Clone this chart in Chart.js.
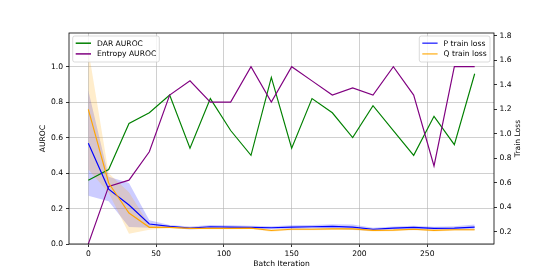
<!DOCTYPE html>
<html>
<head>
<meta charset="utf-8">
<script src="https://cdn.jsdelivr.net/npm/chart.js@4.4.1/dist/chart.umd.min.js"></script>
<style>
  html, body { margin: 0; padding: 0; background: #fff; }
  #wrap { width: 549px; height: 275px; }
</style>
</head>
<body>
<div id="wrap"><canvas id="chart" width="549" height="275"></canvas></div>
<script>
// data
const iterations   = [0, 15, 30, 45, 60, 75, 90, 105, 120, 135, 150, 165, 180, 195, 210, 225, 240, 255, 270, 285];
const darAuroc     = [0.36, 0.42, 0.68, 0.74, 0.84, 0.54, 0.82, 0.64, 0.50, 0.94, 0.54, 0.82, 0.74, 0.60, 0.78, 0.64, 0.50, 0.72, 0.56, 0.96];
const entropyAuroc = [0.00, 0.325, 0.36, 0.52, 0.84, 0.92, 0.80, 0.80, 1.00, 0.80, 1.00, 0.92, 0.84, 0.88, 0.84, 1.00, 0.84, 0.44, 1.00, 1.00];
const pLoss = [0.925, 0.55, 0.42, 0.265, 0.246, 0.232, 0.243, 0.240, 0.238, 0.235, 0.240, 0.243, 0.246, 0.240, 0.222, 0.232, 0.238, 0.230, 0.232, 0.240];
const pStd  = [0.43, 0.10, 0.18, 0.03, 0.012, 0.012, 0.015, 0.015, 0.012, 0.012, 0.015, 0.015, 0.018, 0.022, 0.012, 0.012, 0.012, 0.012, 0.015, 0.022];
const qLoss = [1.20, 0.60, 0.355, 0.238, 0.238, 0.230, 0.230, 0.230, 0.232, 0.212, 0.222, 0.222, 0.225, 0.225, 0.213, 0.215, 0.222, 0.213, 0.218, 0.218];
const qStd  = [0.49, 0.08, 0.17, 0.02, 0.008, 0.008, 0.008, 0.008, 0.008, 0.010, 0.008, 0.008, 0.008, 0.008, 0.008, 0.008, 0.008, 0.008, 0.008, 0.008];

const xTicks     = [0, 50, 100, 150, 200, 250];
const aurocTicks = [0.0, 0.2, 0.4, 0.6, 0.8, 1.0];
const lossTicks  = [0.2, 0.4, 0.6, 0.8, 1.0, 1.2, 1.4, 1.6, 1.8];

const FONT = 'DejaVu Sans';
const FS = 7.6;
Chart.defaults.font.family = FONT;
Chart.defaults.font.size = FS;
Chart.defaults.color = '#000';

const pts = (ys) => ys.map((y, i) => ({ x: iterations[i], y: y }));
const band = (m, s, sign) => m.map((v, i) => ({ x: iterations[i], y: v + sign * s[i] }));

function line(label, data, color, axis, order) {
  return { label, data, borderColor: color, borderWidth: 1.15, pointRadius: 0,
           tension: 0, fill: false, yAxisID: axis, order };
}
function edge(data, color, fill, order) {
  return { data, borderWidth: 0, borderColor: 'rgba(0,0,0,0)', backgroundColor: color,
           pointRadius: 0, tension: 0, fill, yAxisID: 'y2', order };
}

const legends = [
  { dx: 3.7, w: 86.6, items: [['DAR AUROC', '#008000'], ['Entropy AUROC', '#800080']] },
  { dx: 350.3, w: 70.7, items: [['P train loss', 'rgba(0,0,255,0.75)'], ['Q train loss', 'rgba(255,165,0,0.75)']] }
];

const extras = {
  id: 'extras',
  afterDatasetsDraw(chart) {
    const { ctx, chartArea: a } = chart;
    ctx.save();
    // frame
    ctx.strokeStyle = '#000';
    ctx.lineWidth = 0.8;
    ctx.strokeRect(a.left, a.top, a.right - a.left, a.bottom - a.top);

    // legends
    legends.forEach(lg => {
      const x = a.left + lg.dx, y = a.top + 3, h = 26, r = 2;
      ctx.beginPath();
      ctx.roundRect(x, y, lg.w, h, r);
      ctx.fillStyle = 'rgba(255,255,255,0.8)';
      ctx.fill();
      ctx.strokeStyle = '#cccccc';
      ctx.lineWidth = 0.7;
      ctx.stroke();
      ctx.font = FS + 'px "' + FONT + '"';
      ctx.textBaseline = 'middle';
      ctx.textAlign = 'left';
      lg.items.forEach((it, i) => {
        const yy = y + 7.2 + i * 10.7;
        ctx.beginPath();
        ctx.moveTo(x + 3, yy);
        ctx.lineTo(x + 18.3, yy);
        ctx.strokeStyle = it[1];
        ctx.lineWidth = 1.5;
        ctx.stroke();
        ctx.fillStyle = '#000';
        ctx.fillText(it[0], x + 24.3, yy + 0.5);
      });
    });

    // right axis title (reads bottom to top)
    ctx.translate(518.3, (a.top + a.bottom) / 2);
    ctx.rotate(-Math.PI / 2);
    ctx.textAlign = 'center';
    ctx.textBaseline = 'middle';
    ctx.fillStyle = '#000';
    ctx.font = FS + 'px "' + FONT + '"';
    ctx.fillText('Train Loss', 0, 0);
    ctx.restore();
  }
};

new Chart(document.getElementById('chart'), {
  type: 'line',
  data: {
    datasets: [
      line('DAR AUROC', pts(darAuroc), '#008000', 'y', 4),
      line('Entropy AUROC', pts(entropyAuroc), '#800080', 'y', 3),
      line('P train loss', pts(pLoss), '#0000ff', 'y2', 2),
      line('Q train loss', pts(qLoss), '#ffa500', 'y2', 1),
      edge(band(pLoss, pStd, -1), 'rgba(0,0,0,0)', false, 10),
      edge(band(pLoss, pStd, 1), 'rgba(0,0,255,0.2)', '-1', 9),
      edge(band(qLoss, qStd, -1), 'rgba(0,0,0,0)', false, 8),
      edge(band(qLoss, qStd, 1), 'rgba(255,165,0,0.2)', '-1', 7)
    ]
  },
  options: {
    responsive: false,
    animation: false,
    devicePixelRatio: 1,
    layout: { padding: { top: 33, left: 0, right: 0, bottom: 0 } },
    plugins: { legend: { display: false }, tooltip: { enabled: false } },
    scales: {
      x: {
        type: 'linear', position: 'bottom', min: -14.25, max: 299.25,
        afterBuildTicks: s => { s.ticks = xTicks.map(v => ({ value: v })); },
        afterFit: s => { s.height = 31; },
        grid: { color: '#b0b0b0', lineWidth: 0.6, tickColor: '#000', tickWidth: 0.8, tickLength: 3 },
        border: { display: false },
        ticks: { padding: 2, autoSkip: false, maxRotation: 0, callback: v => String(v) },
        title: { display: true, text: 'Batch Iteration', padding: { top: 0, bottom: 6.4 } }
      },
      y: {
        type: 'linear', position: 'left', min: 0, max: 1.19,
        afterBuildTicks: s => { s.ticks = aurocTicks.map(v => ({ value: v })); },
        afterFit: s => { s.width = 69; },
        grid: { color: '#b0b0b0', lineWidth: 0.6, tickColor: '#000', tickWidth: 0.8, tickLength: 3 },
        border: { display: false },
        ticks: { padding: 3, autoSkip: false, callback: v => v.toFixed(1) },
        title: { display: true, text: 'AUROC', padding: { top: 38.4, bottom: 0 } }
      },
      y2: {
        type: 'linear', position: 'right', min: 0.102, max: 1.824,
        afterBuildTicks: s => { s.ticks = lossTicks.map(v => ({ value: v })); },
        afterFit: s => { s.width = 55; },
        grid: { drawOnChartArea: false, tickColor: '#000', tickWidth: 0.8, tickLength: 3 },
        border: { display: false },
        ticks: { padding: 2.5, autoSkip: false, callback: v => v.toFixed(1) }
      }
    }
  },
  plugins: [extras]
});
</script>
</body>
</html>
